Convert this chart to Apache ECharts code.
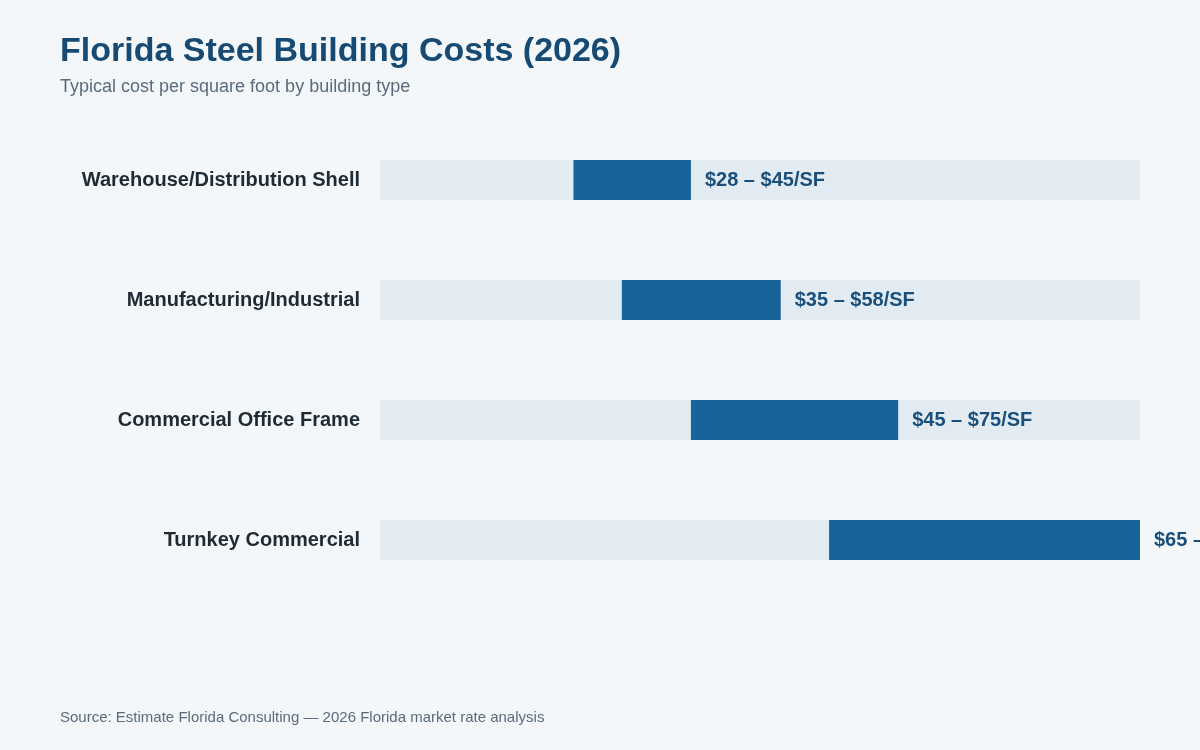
<!DOCTYPE html>
<html>
<head>
<meta charset="utf-8">
<title>Florida Steel Building Costs (2026)</title>
<script src="https://cdn.jsdelivr.net/npm/echarts@6/dist/echarts.min.js"></script>
<style>
  html, body { margin: 0; padding: 0; background: #f3f7fa; }
  #chart { width: 1200px; height: 750px; }
</style>
</head>
<body>
<div id="chart"></div>
<script>
// building types, top to bottom
const categories = ['Warehouse/Distribution Shell', 'Manufacturing/Industrial', 'Commercial Office Frame', 'Turnkey Commercial']
// $/SF range
const lowValues = [28, 35, 45, 65]
const highValues = [45, 58, 75, 110]
const axisMax = 110

const myChart = echarts.init(document.getElementById('chart'))
const font = '"Liberation Sans", Arial, Helvetica, sans-serif'

const option = {
  backgroundColor: '#f3f7fa',
  animation: false,
  title: [
    {
      text: 'Florida Steel Building Costs (2026)',
      left: 60,
      top: 35,
      padding: 0,
      textStyle: { color: '#174a73', fontSize: 34, fontWeight: 'bold', fontFamily: font }
    },
    {
      text: 'Typical cost per square foot by building type',
      left: 60,
      top: 78,
      padding: 0,
      textStyle: { color: '#5a6b7d', fontSize: 18, fontWeight: 'normal', fontFamily: font }
    },
    {
      text: 'Source: Estimate Florida Consulting — 2026 Florida market rate analysis',
      left: 60,
      top: 710,
      padding: 0,
      textStyle: { color: '#5a6b7d', fontSize: 15, fontWeight: 'normal', fontFamily: font }
    }
  ],
  grid: {
    left: 380,
    right: 60,
    top: 120,
    height: 480
  },
  xAxis: {
    type: 'value',
    min: 0,
    max: axisMax,
    show: false
  },
  yAxis: {
    type: 'category',
    inverse: true,
    data: categories,
    axisLine: { show: false },
    axisTick: { show: false },
    axisLabel: {
      margin: 20,
      color: '#1f2a33',
      fontSize: 20,
      fontWeight: 'bold',
      fontFamily: font,
      lineHeight: 24,
      padding: [4, 0, 0, 0]
    }
  },
  series: [
    {
      // invisible offset up to the low end
      type: 'bar',
      stack: 'range',
      barWidth: 40,
      data: lowValues,
      itemStyle: { color: 'transparent' },
      showBackground: true,
      backgroundStyle: { color: '#e1ebf1' },
      silent: true
    },
    {
      type: 'bar',
      stack: 'range',
      barWidth: 40,
      data: highValues.map((h, i) => h - lowValues[i]),
      itemStyle: { color: '#186399' },
      label: {
        show: true,
        position: 'right',
        distance: 14,
        color: '#1b4f7b',
        fontSize: 20,
        fontWeight: 'bold',
        fontFamily: font,
        lineHeight: 24,
        padding: [4, 0, 0, 0],
        formatter: (p) => '$' + lowValues[p.dataIndex] + ' – $' + highValues[p.dataIndex] + '/SF'
      }
    }
  ]
}

myChart.setOption(option)
window.addEventListener('resize', () => myChart.resize())
</script>
</body>
</html>
